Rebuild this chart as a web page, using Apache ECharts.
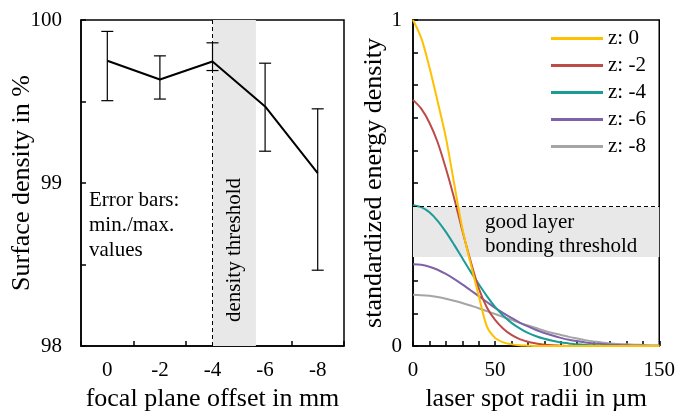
<!DOCTYPE html>
<html>
<head>
<meta charset="utf-8">
<script src="https://cdn.jsdelivr.net/npm/echarts@6/dist/echarts.min.js"></script>
<style>
  html, body { margin: 0; padding: 0; background: #fff; }
  #chart { width: 678px; height: 417px; }
</style>
</head>
<body>
<div id="chart"></div>
<script>
// left panel: surface density vs focal plane offset
var offsets = ['0', '-2', '-4', '-6', '-8'];
var densityMean = [99.75, 99.635, 99.745, 99.47, 99.06];
var densityMin = [99.505, 99.515, 99.69, 99.195, 98.465];
var densityMax = [99.93, 99.78, 99.86, 99.735, 99.455];
var densityBand = [-4, -5.65]; // shaded "density threshold" zone in mm

// right panel: standardized energy density vs laser spot radius
var radii = [0, 5, 10, 15, 20, 25, 30, 35, 40, 45, 50, 55, 60, 65, 70, 75,
  80, 85, 90, 95, 100, 105, 110, 115, 120, 125, 130, 135, 140, 145, 150];
var zNames = ['z: 0', 'z: -2', 'z: -4', 'z: -6', 'z: -8'];
var energyZ0 = [1.000, 0.945, 0.855, 0.750, 0.640, 0.500, 0.362, 0.255, 0.155, 0.060,
  0.025, 0.011, 0.005, 0.002, 0.001, 0, 0, 0, 0, 0, 0, 0, 0, 0, 0, 0, 0, 0, 0, 0, 0];
var energyZ2 = [0.755, 0.728, 0.685, 0.625, 0.545, 0.455, 0.355, 0.262, 0.178, 0.118,
  0.080, 0.053, 0.034, 0.021, 0.013, 0.008, 0.004, 0.002, 0.001, 0, 0, 0, 0, 0, 0, 0, 0, 0, 0, 0, 0];
var energyZ4 = [0.432, 0.426, 0.410, 0.384, 0.350, 0.311, 0.270, 0.229, 0.190, 0.153,
  0.120, 0.093, 0.071, 0.054, 0.040, 0.030, 0.022, 0.016, 0.011, 0.008, 0.005, 0.003,
  0.002, 0.001, 0.001, 0, 0, 0, 0, 0, 0];
var energyZ6 = [0.251, 0.249, 0.243, 0.234, 0.221, 0.206, 0.189, 0.171, 0.153, 0.135,
  0.117, 0.101, 0.086, 0.072, 0.060, 0.049, 0.040, 0.032, 0.025, 0.019, 0.015, 0.011,
  0.008, 0.006, 0.004, 0.003, 0.002, 0.001, 0.001, 0, 0];
var energyZ8 = [0.157, 0.156, 0.154, 0.150, 0.145, 0.139, 0.132, 0.124, 0.116, 0.107,
  0.098, 0.089, 0.080, 0.071, 0.063, 0.055, 0.047, 0.040, 0.034, 0.028, 0.023, 0.018,
  0.014, 0.011, 0.008, 0.006, 0.005, 0.004, 0.003, 0.002, 0.002];
var bondingBand = [0.273, 0.426]; // shaded "good layer bonding" zone

var colors = ['#FFC000', '#BE4B48', '#1A9C96', '#7F62A8', '#A5A5A5'];
var font = '"Liberation Serif", "Times New Roman", serif';

var myChart = echarts.init(document.getElementById('chart'));

function pairs(values) {
  return radii.map(function (r, i) { return [r, values[i]]; });
}

var tickStyle = { show: true, inside: true, length: 5, lineStyle: { color: '#000', width: 1.5 } };
var lineAxis = { show: true, onZero: false, lineStyle: { color: '#000', width: 1.5 } };
var labelStyle = { color: '#000', fontFamily: font, fontSize: 21 };
var nameStyle = { color: '#000', fontFamily: font, fontSize: 26 };

var energySeries = [energyZ0, energyZ2, energyZ4, energyZ6, energyZ8].map(function (vals, i) {
  return {
    name: zNames[i],
    type: 'line',
    xAxisIndex: 2,
    yAxisIndex: 1,
    data: pairs(vals),
    smooth: 0.3,
    symbol: 'none',
    lineStyle: { color: colors[i], width: 2 },
    itemStyle: { color: colors[i] },
    z: 5 - i
  };
});

var option = {
  animation: false,
  textStyle: { fontFamily: font },
  grid: [
    { left: 81, top: 20, width: 263, height: 326, show: true, borderColor: '#000', borderWidth: 1.5 },
    { left: 413, top: 20, width: 248, height: 327, show: true, borderColor: '#000', borderWidth: 1.5 }
  ],
  xAxis: [
    {
      gridIndex: 0,
      type: 'category',
      data: offsets,
      boundaryGap: true,
      axisLine: lineAxis,
      axisTick: tickStyle,
      axisLabel: Object.assign({ margin: 14 }, labelStyle),
      name: 'focal plane offset in mm',
      nameLocation: 'middle',
      nameGap: 40,
      nameTextStyle: nameStyle
    },
    {
      // hidden helper axis in category-index units for the shaded zone
      gridIndex: 0,
      type: 'value',
      min: -0.5,
      max: 4.5,
      show: false
    },
    {
      gridIndex: 1,
      type: 'value',
      min: 0,
      max: 150,
      interval: 10,
      axisLine: lineAxis,
      axisTick: tickStyle,
      splitLine: { show: false },
      axisLabel: Object.assign({
        margin: 14,
        formatter: function (v) { return v % 50 === 0 ? String(v) : ''; }
      }, labelStyle),
      name: 'laser spot radii in µm',
      nameLocation: 'middle',
      nameGap: 40,
      nameTextStyle: nameStyle
    }
  ],
  yAxis: [
    {
      gridIndex: 0,
      type: 'value',
      min: 98,
      max: 100,
      interval: 0.5,
      axisLine: lineAxis,
      axisTick: tickStyle,
      splitLine: { show: false },
      axisLabel: Object.assign({
        margin: 19,
        formatter: function (v) { return Math.abs(v - Math.round(v)) < 1e-6 ? String(Math.round(v)) : ''; }
      }, labelStyle),
      name: 'Surface density in %',
      nameLocation: 'middle',
      nameGap: 46,
      nameMoveOverlap: false,
      nameTextStyle: nameStyle
    },
    {
      gridIndex: 1,
      type: 'value',
      min: 0,
      max: 1,
      interval: 0.1,
      axisLine: lineAxis,
      axisTick: tickStyle,
      splitLine: { show: false },
      axisLabel: Object.assign({
        margin: 11,
        formatter: function (v) {
          if (Math.abs(v) < 1e-6) return '0';
          if (Math.abs(v - 1) < 1e-6) return '1';
          return '';
        }
      }, labelStyle),
      name: 'standardized energy density',
      nameLocation: 'middle',
      nameGap: 22,
      nameTextStyle: nameStyle
    }
  ],
  legend: {
    data: zNames,
    orient: 'vertical',
    left: 551,
    top: 28,
    padding: 0,
    itemWidth: 52,
    itemHeight: 3,
    itemGap: 6,
    icon: 'rect',
    textStyle: { color: '#000', fontFamily: font, fontSize: 21 }
  },
  graphic: [
    {
      type: 'text',
      left: 89,
      top: 188,
      style: {
        text: 'Error bars:\nmin./max.\nvalues',
        fill: '#000',
        font: '21px ' + font,
        lineHeight: 25
      },
      z: 20
    },
    {
      type: 'text',
      x: 234,
      y: 250,
      rotation: Math.PI / 2,
      style: {
        text: 'density threshold',
        fill: '#000',
        font: '21px ' + font,
        align: 'center',
        verticalAlign: 'middle'
      },
      z: 20
    },
    {
      type: 'text',
      left: 485,
      top: 210,
      style: {
        text: 'good layer\nbonding threshold',
        fill: '#000',
        font: '21px ' + font,
        lineHeight: 24
      },
      z: 20
    }
  ],
  series: [
    {
      // shaded zone + dashed marker in the left panel
      type: 'line',
      xAxisIndex: 1,
      yAxisIndex: 0,
      data: [],
      silent: true,
      z: 1,
      markArea: {
        silent: true,
        itemStyle: { color: '#E8E8E8' },
        data: [[{ xAxis: densityBand[0] / -2 }, { xAxis: densityBand[1] / -2 }]]
      },
      markLine: {
        silent: true,
        symbol: ['none', 'none'],
        label: { show: false },
        lineStyle: { color: '#000', type: [4, 3], width: 1 },
        data: [{ xAxis: densityBand[0] / -2 }]
      }
    },
    {
      type: 'line',
      xAxisIndex: 0,
      yAxisIndex: 0,
      data: densityMean,
      symbol: 'none',
      lineStyle: { color: '#000', width: 2 },
      z: 4
    },
    {
      // min/max error bars
      type: 'custom',
      xAxisIndex: 0,
      yAxisIndex: 0,
      data: offsets.map(function (o, i) { return [i, densityMin[i], densityMax[i]]; }),
      encode: { x: 0, y: [1, 2] },
      z: 5,
      renderItem: function (params, api) {
        var lo = api.coord([api.value(0), api.value(1)]);
        var hi = api.coord([api.value(0), api.value(2)]);
        var half = 6;
        var st = { stroke: '#000', lineWidth: 1.2 };
        return {
          type: 'group',
          children: [
            { type: 'line', shape: { x1: lo[0], y1: lo[1], x2: hi[0], y2: hi[1] }, style: st },
            { type: 'line', shape: { x1: lo[0] - half, y1: lo[1], x2: lo[0] + half, y2: lo[1] }, style: st },
            { type: 'line', shape: { x1: hi[0] - half, y1: hi[1], x2: hi[0] + half, y2: hi[1] }, style: st }
          ]
        };
      }
    },
    {
      // bonding threshold band in the right panel
      type: 'line',
      xAxisIndex: 2,
      yAxisIndex: 1,
      data: [],
      silent: true,
      z: 1,
      markArea: {
        silent: true,
        itemStyle: { color: '#E8E8E8' },
        data: [[{ yAxis: bondingBand[0] }, { yAxis: bondingBand[1] }]]
      },
      markLine: {
        silent: true,
        symbol: ['none', 'none'],
        label: { show: false },
        lineStyle: { color: '#000', type: [4, 3], width: 1 },
        data: [{ yAxis: bondingBand[1] }]
      }
    }
  ].concat(energySeries)
};

myChart.setOption(option);
</script>
</body>
</html>
